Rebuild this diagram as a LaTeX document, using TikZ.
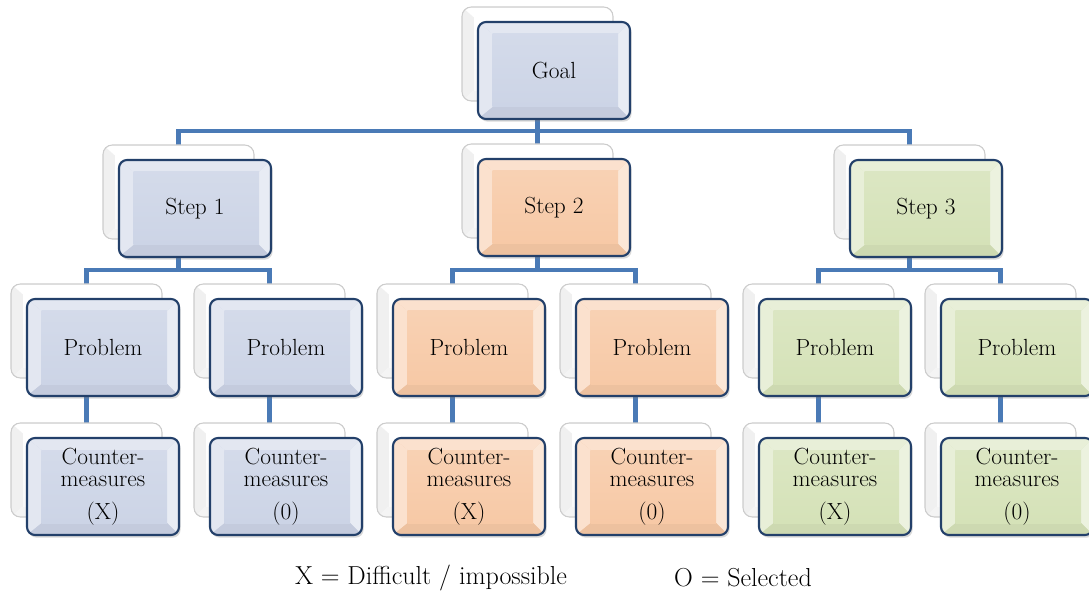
\documentclass[tikz,border=0pt]{standalone}
\usetikzlibrary{shadows,backgrounds}

\definecolor{linkblue}{HTML}{4A7AB6}
\definecolor{edgenavy}{HTML}{23406A}
\definecolor{faceblue}{HTML}{CCD4E6}
\definecolor{faceorange}{HTML}{F7C9A6}
\definecolor{facegreen}{HTML}{D5E2B8}

\tikzset{
  % pale card lying behind each box
  backbox/.style={draw=gray!40, line width=0.8pt, rounded corners=7pt,
    minimum width=113.25pt, minimum height=70.5pt, inner sep=0pt, outer sep=0pt,
    anchor=north west, fill=white,
    path picture={
      \coordinate (pNW) at (path picture bounding box.north west);
      \coordinate (pNE) at (path picture bounding box.north east);
      \coordinate (pSW) at (path picture bounding box.south west);
      \coordinate (pSE) at (path picture bounding box.south east);
      \fill[sharp corners, gray!12] (pNW) -- ([shift={(9pt,-8pt)}]pNW) -- ([shift={(9pt,8pt)}]pSW) -- (pSW) -- cycle;
      \fill[sharp corners, gray!9] (pSW) -- ([shift={(9pt,8pt)}]pSW) -- ([shift={(-8pt,8pt)}]pSE) -- (pSE) -- cycle;
      \shade[sharp corners, top color=white, bottom color=gray!5]
        ([shift={(9pt,-8pt)}]pNW) rectangle ([shift={(-8pt,8pt)}]pSE);
    }},
  % bevelled front box, argument = face colour
  frontbox/.style={draw=edgenavy, line width=1.6pt, rounded corners=6pt,
    minimum width=114pt, minimum height=72.75pt, inner sep=0pt, outer sep=0pt,
    anchor=north west, fill=#1, align=center,
    font=\fontsize{17.5}{16.5}\selectfont,
    drop shadow={opacity=0.3, shadow xshift=1.2pt, shadow yshift=-2pt},
    path picture={
      \coordinate (pNW) at (path picture bounding box.north west);
      \coordinate (pNE) at (path picture bounding box.north east);
      \coordinate (pSW) at (path picture bounding box.south west);
      \coordinate (pSE) at (path picture bounding box.south east);
      \fill[sharp corners, #1!55!white] (pNW) -- (pNE) -- ([shift={(-9pt,-9pt)}]pNE) -- ([shift={(11pt,-9pt)}]pNW) -- cycle;
      \fill[sharp corners, #1!55!white] (pNW) -- ([shift={(11pt,-9pt)}]pNW) -- ([shift={(11pt,9pt)}]pSW) -- (pSW) -- cycle;
      \fill[sharp corners, #1!45!white] (pNE) -- (pSE) -- ([shift={(-9pt,9pt)}]pSE) -- ([shift={(-9pt,-9pt)}]pNE) -- cycle;
      \fill[sharp corners, #1!96!black] (pSW) -- ([shift={(11pt,9pt)}]pSW) -- ([shift={(-9pt,9pt)}]pSE) -- (pSE) -- cycle;
      \shade[sharp corners, top color=#1!85!white, bottom color=#1]
        ([shift={(11pt,-9pt)}]pNW) rectangle ([shift={(-9pt,9pt)}]pSE);
    }},
  link/.style={draw=linkblue, line width=3.6pt},
  legend/.style={font=\fontsize{19.5}{22}\selectfont, inner sep=0pt},
}

% a card with its bevelled box: name, x, y (top left of the card), colour, text
\newcommand\boxpair[5]{%
  \node[backbox] (#1-b) at (#2,#3) {};
  \node[frontbox=#4] (#1) at ([xshift=12pt,yshift=-11.25pt]#1-b.north west) {#5};
}

\begin{document}
\begin{tikzpicture}[x=0.75pt,y=-0.75pt]
  \useasboundingbox (0,0) rectangle (1089,595);

  % top level
  \boxpair{goal}{462}{7}{faceblue}{Goal}

  % steps
  \boxpair{s1}{103}{145}{faceblue}{Step 1}
  \boxpair{s2}{462}{144}{faceorange}{Step 2}
  \boxpair{s3}{834}{145}{facegreen}{Step 3}

  % problems
  \boxpair{p1}{11}{284}{faceblue}{Problem}
  \boxpair{p2}{194}{284}{faceblue}{Problem}
  \boxpair{p3}{377}{284}{faceorange}{Problem}
  \boxpair{p4}{560}{284}{faceorange}{Problem}
  \boxpair{p5}{743}{284}{facegreen}{Problem}
  \boxpair{p6}{925}{284}{facegreen}{Problem}

  % countermeasures
  \boxpair{c1}{11}{423}{faceblue}{Counter-\\measures\\[8pt](X)}
  \boxpair{c2}{194}{423}{faceblue}{Counter-\\measures\\[8pt](0)}
  \boxpair{c3}{377}{423}{faceorange}{Counter-\\measures\\[8pt](X)}
  \boxpair{c4}{560}{423}{faceorange}{Counter-\\measures\\[8pt](0)}
  \boxpair{c5}{743}{423}{facegreen}{Counter-\\measures\\[8pt](X)}
  \boxpair{c6}{925}{423}{facegreen}{Counter-\\measures\\[8pt](0)}

  % legend
  \node[legend] (keyx) at (431,578) {X = Difficult / impossible};
  \node[legend] (keyo) at (743,578) {O = Selected};

  % connectors, behind the boxes
  \begin{scope}[on background layer]
    \coordinate (busgoal) at (0,131);
    \coordinate (busstep) at (0,270);
    \draw[link] (goal-b.center) -- (goal-b.center |- busgoal);
    \draw[link] (s1-b.center) |- (s3-b.center |- busgoal) -- (s3-b.center);
    \draw[link] (s2-b.center) -- (s2-b.center |- busgoal);
    \draw[link] (p1-b.center) |- (p2-b.center |- busstep) -- (p2-b.center);
    \draw[link] (p3-b.center) |- (p4-b.center |- busstep) -- (p4-b.center);
    \draw[link] (p5-b.center) |- (p6-b.center |- busstep) -- (p6-b.center);
    \draw[link] (s1-b.center) -- (s1-b.center |- busstep);
    \draw[link] (s2-b.center) -- (s2-b.center |- busstep);
    \draw[link] (s3-b.center) -- (s3-b.center |- busstep);
    \foreach \k in {1,...,6} {
      \draw[link] (p\k-b.center) -- (c\k-b.center);
    }
  \end{scope}
\end{tikzpicture}
\end{document}
